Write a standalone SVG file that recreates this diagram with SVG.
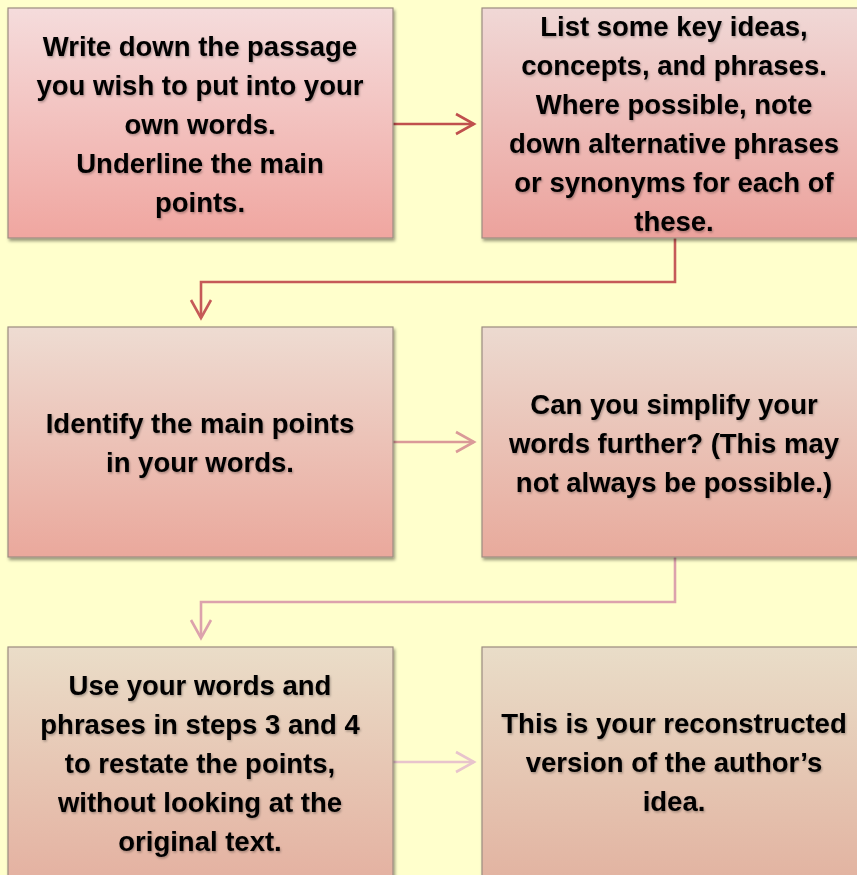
<svg xmlns="http://www.w3.org/2000/svg" width="857" height="875" viewBox="0 0 857 875">
<defs>
<linearGradient id="g1" x1="0" y1="0" x2="0" y2="1"><stop offset="0" stop-color="#F5DCDC"/><stop offset="1" stop-color="#F0A6A0"/></linearGradient>
<linearGradient id="g2" x1="0" y1="0" x2="0" y2="1"><stop offset="0" stop-color="#F0D8D6"/><stop offset="1" stop-color="#ECA29C"/></linearGradient>
<linearGradient id="g3" x1="0" y1="0" x2="0" y2="1"><stop offset="0" stop-color="#EEDCD2"/><stop offset="1" stop-color="#EAA89C"/></linearGradient>
<linearGradient id="g4" x1="0" y1="0" x2="0" y2="1"><stop offset="0" stop-color="#ECDAD0"/><stop offset="1" stop-color="#E8AA9C"/></linearGradient>
<linearGradient id="g5" x1="0" y1="0" x2="0" y2="1"><stop offset="0" stop-color="#EADDC8"/><stop offset="1" stop-color="#E4B0A0"/></linearGradient>
<linearGradient id="g6" x1="0" y1="0" x2="0" y2="1"><stop offset="0" stop-color="#E9DDC8"/><stop offset="1" stop-color="#E2B2A0"/></linearGradient>
<filter id="sh" x="-5%" y="-5%" width="115%" height="115%"><feDropShadow dx="1.5" dy="2.5" stdDeviation="1.5" flood-color="#000" flood-opacity="0.4"/></filter>
<filter id="ts" x="-5%" y="-20%" width="110%" height="150%"><feDropShadow dx="1" dy="1.5" stdDeviation="1.2" flood-color="#000" flood-opacity="0.3"/></filter>
</defs>
<style>
.box{stroke:#9C8C80;stroke-width:1.2}
.t{font-family:"Liberation Sans",Arial,sans-serif;font-weight:bold;font-size:27.5px;fill:#000;text-anchor:middle}
.c{fill:none;stroke-width:2.6}
</style>
<rect width="857" height="875" fill="#FFFFCC"/>
<g id="connectors">
<g stroke="#C0504D" class="c"><path d="M393 124H474"/><path d="M456 114L474 124L456 134"/></g>
<g stroke="#C55A58" class="c"><path d="M675 238V282H201V318"/><path d="M191 300L201 318L211 300"/></g>
<g stroke="#DA9A98" class="c"><path d="M393 442H474"/><path d="M456 432L474 442L456 452"/></g>
<g stroke="#DCA2AC" class="c"><path d="M675 557V602H201V637"/><path d="M191 620L201 638L211 620"/></g>
<g stroke="#E8C4CC" class="c"><path d="M393 762H474"/><path d="M456 752L474 762L456 772"/></g>
</g>
<g id="node1"><rect class="box" x="8" y="8" width="385" height="230" fill="url(#g1)" filter="url(#sh)"/>
<g class="t" filter="url(#ts)"><text x="200" y="56">Write down the passage</text><text x="200" y="95">you wish to put into your</text><text x="200" y="134">own words.</text><text x="200" y="173">Underline the main</text><text x="200" y="212">points.</text></g></g>
<g id="node2"><rect class="box" x="482" y="8" width="385" height="230" fill="url(#g2)" filter="url(#sh)"/>
<g class="t" filter="url(#ts)"><text x="674" y="36">List some key ideas,</text><text x="674" y="75">concepts, and phrases.</text><text x="674" y="114">Where possible, note</text><text x="674" y="153">down alternative phrases</text><text x="674" y="192">or synonyms for each of</text><text x="674" y="231">these.</text></g></g>
<g id="node3"><rect class="box" x="8" y="327" width="385" height="230" fill="url(#g3)" filter="url(#sh)"/>
<g class="t" filter="url(#ts)"><text x="200" y="433">Identify the main points</text><text x="200" y="472">in your words.</text></g></g>
<g id="node4"><rect class="box" x="482" y="327" width="385" height="230" fill="url(#g4)" filter="url(#sh)"/>
<g class="t" filter="url(#ts)"><text x="674" y="414">Can you simplify your</text><text x="674" y="453">words further? (This may</text><text x="674" y="492">not always be possible.)</text></g></g>
<g id="node5"><rect class="box" x="8" y="647" width="385" height="240" fill="url(#g5)" filter="url(#sh)"/>
<g class="t" filter="url(#ts)"><text x="200" y="695">Use your words and</text><text x="200" y="734">phrases in steps 3 and 4</text><text x="200" y="773">to restate the points,</text><text x="200" y="812">without looking at the</text><text x="200" y="851">original text.</text></g></g>
<g id="node6"><rect class="box" x="482" y="647" width="385" height="240" fill="url(#g6)" filter="url(#sh)"/>
<g class="t" filter="url(#ts)"><text x="674" y="733">This is your reconstructed</text><text x="674" y="772">version of the author’s</text><text x="674" y="811">idea.</text></g></g>
</svg>
